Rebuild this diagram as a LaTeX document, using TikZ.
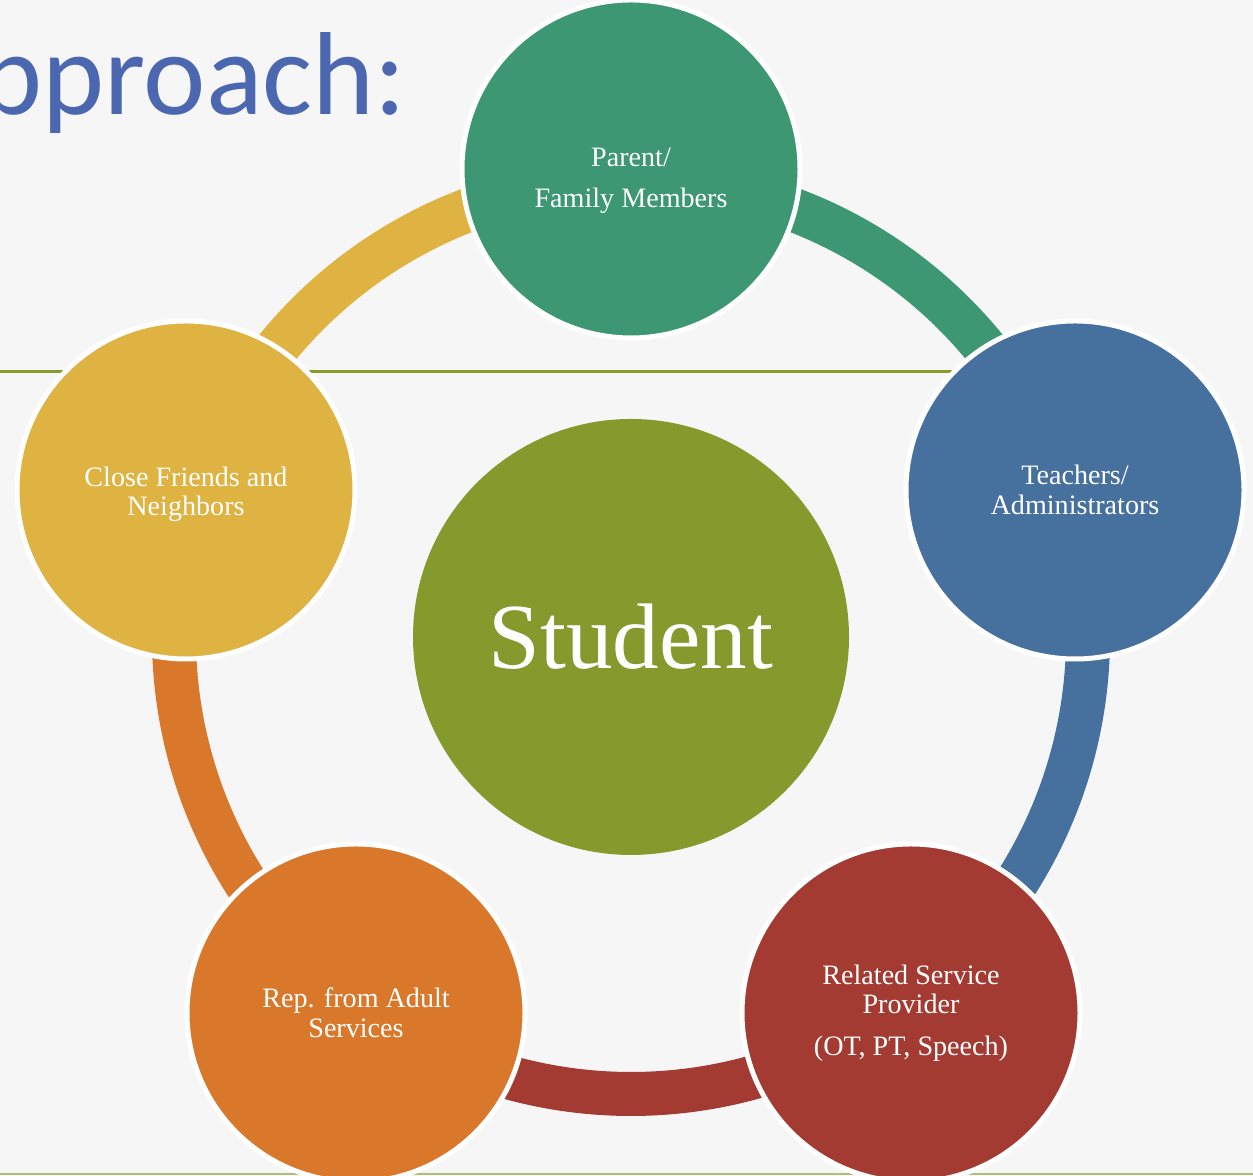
\documentclass[tikz,border=0pt]{standalone}
\usepackage{fontspec}
\setmainfont{Liberation Serif}
\newfontfamily\titlefont{Carlito}
\usetikzlibrary{calc}

\definecolor{bgpaper}{HTML}{F6F6F6}
\definecolor{titleblue}{HTML}{4A67B0}
\definecolor{ruleolive}{HTML}{8A9B2A}
\definecolor{rulelight}{HTML}{AFBC80}
\definecolor{hubolive}{HTML}{85992C}
\definecolor{famgreen}{HTML}{3D9772}
\definecolor{teachblue}{HTML}{46709E}
\definecolor{servred}{HTML}{A33B33}
\definecolor{adultorange}{HTML}{D9782B}
\definecolor{friendyellow}{HTML}{DFB342}

\begin{document}
\begin{tikzpicture}[
    member/.style={circle, draw=white, line width=0.05cm, minimum size=3.38cm, inner sep=0pt, align=center, text=white, font=\fontsize{8}{8.4}\selectfont},
    hubnode/.style={circle, fill=hubolive, minimum size=4.36cm, inner sep=0pt, text=white, font=\fontsize{26.5}{30}\selectfont},
    ring/.style={line width=0.44cm}
]
    \useasboundingbox (0,0) rectangle (12.53,11.76);
    \fill[bgpaper] (0,0) rectangle (12.53,11.76);
    \draw[rulelight, line width=0.02cm] (0,0.02) -- (12.53,0.02);
    \draw[ruleolive, line width=0.03cm] (0,8.04) -- (10,8.04);
    \node[anchor=base east, inner sep=0pt, text=titleblue, font=\titlefont\fontsize{33.6}{40}\selectfont] (title) at (4.07,10.61) {pproach:};

    \node[hubnode] (hub) at (6.31,5.39) {Student};

    % ring segments, under the circles
    \draw[ring, famgreen] ($(hub)+(90:4.57)$) arc[start angle=90, end angle=18, radius=4.57];
    \draw[ring, teachblue] ($(hub)+(18:4.57)$) arc[start angle=18, end angle=-54, radius=4.57];
    \draw[ring, servred] ($(hub)+(-54:4.57)$) arc[start angle=-54, end angle=-126, radius=4.57];
    \draw[ring, adultorange] ($(hub)+(234:4.57)$) arc[start angle=234, end angle=162, radius=4.57];
    \draw[ring, friendyellow] ($(hub)+(162:4.57)$) arc[start angle=162, end angle=90, radius=4.57];

    \node[member, fill=famgreen] (family) at (6.31,10.07) {\rule{0pt}{12pt}Parent/\\[3.3pt]Family Members};
    \node[member, fill=teachblue] (teachers) at (10.75,6.86) {Teachers/\\Administrators};
    \node[member, fill=servred] (service) at (9.11,1.63) {Related Service\\Provider\\[3.5pt](OT, PT, Speech)};
    \node[member, fill=adultorange] (adult) at (3.56,1.63) {Rep. from Adult\\Services};
    \node[member, fill=friendyellow] (friends) at (1.86,6.86) {\rule{0pt}{8pt}Close Friends and\\Neighbors};
\end{tikzpicture}
\end{document}
